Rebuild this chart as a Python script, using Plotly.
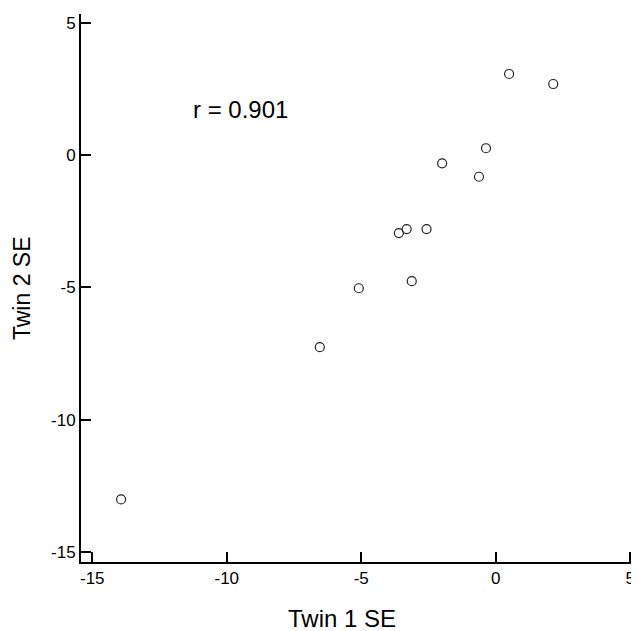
import plotly.graph_objects as go

twin1_se = [-13.93, -6.54, -5.09, -3.12, -3.60, -3.31, -2.57, -1.99, -0.62, -0.36, 0.50, 2.14]
twin2_se = [-13.02, -7.26, -5.03, -4.76, -2.94, -2.79, -2.79, -0.30, -0.81, 0.27, 3.08, 2.70]
tick_vals = [-15, -10, -5, 0, 5]
tick_text = ["-15", "-10", "-5", "0", "5"]
r_label = "r = 0.901"
x_title = "Twin 1 SE"
y_title = "Twin 2 SE"

FONT = "Liberation Sans, Arial"

fig = go.Figure()
fig.add_trace(go.Scatter(
    x=twin1_se, y=twin2_se, mode="markers",
    marker=dict(symbol="circle-open", size=9, color="#222222", line=dict(width=1.2, color="#222222")),
    showlegend=False, cliponaxis=False,
))

fig.add_annotation(x=-9.5, y=1.72, xref="x", yref="y", text=r_label, showarrow=False,
                   font=dict(family=FONT, size=24, color="black"))
fig.add_annotation(x=0.468, y=-0.104, xref="paper", yref="paper", text=x_title, showarrow=False,
                   xanchor="center", yanchor="middle",
                   font=dict(family=FONT, size=24, color="black"))
fig.add_annotation(x=-0.1057, y=0.5, xref="paper", yref="paper", text=y_title, showarrow=False,
                   xanchor="center", yanchor="middle", textangle=-90,
                   font=dict(family=FONT, size=23, color="black"))

axis_common = dict(
    showline=True, linecolor="black", linewidth=2,
    ticks="inside", ticklen=10, tickwidth=1.5, tickcolor="black",
    tickvals=tick_vals, ticktext=tick_text, showgrid=False, zeroline=False,
    tickfont=dict(family=FONT, size=17, color="black"),
    ticklabeloverflow="allow",
    mirror=False,
)

fig.update_layout(
    width=631, height=623,
    margin=dict(l=73, r=0, t=6, b=69),
    plot_bgcolor="white", paper_bgcolor="white",
    xaxis=dict(range=[-15.42, 5.33], **axis_common),
    yaxis=dict(range=[-15.39, 5.35], **axis_common),
)

fig.write_html("out.html")
